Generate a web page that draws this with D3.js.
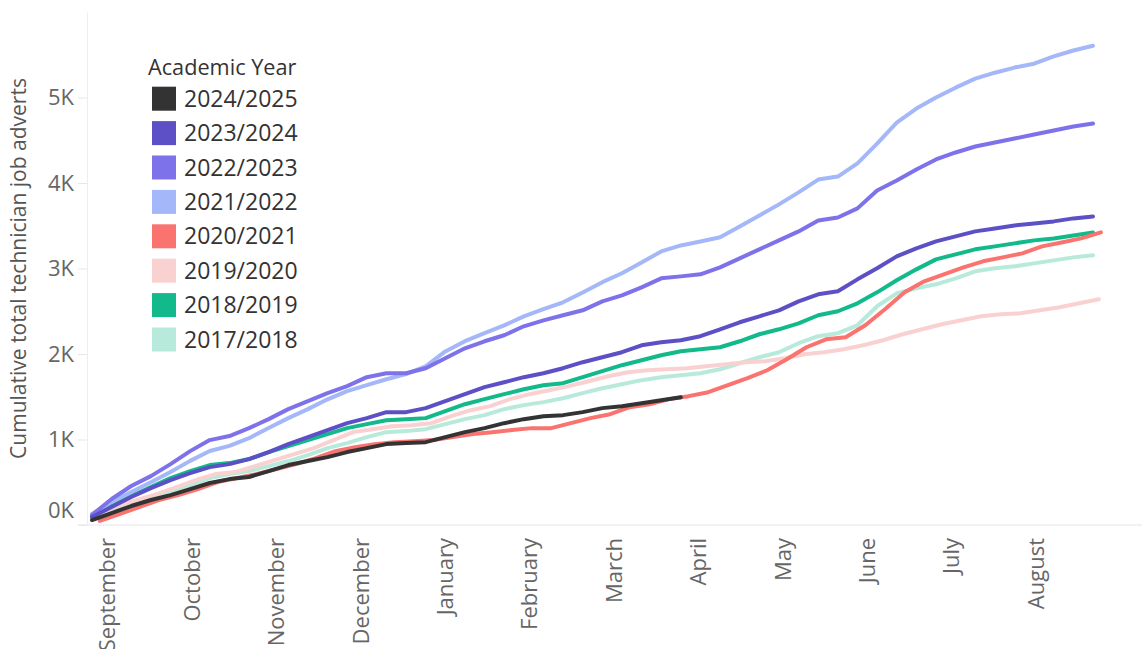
<!DOCTYPE html>
<html>
<head>
<meta charset="utf-8">
<script src="https://cdn.jsdelivr.net/npm/d3@7/dist/d3.min.js"></script>
<style>
  body { margin: 0; background: #fff; }
  .chart text { font-family: 'Open Sans', sans-serif; }
</style>
</head>
<body>
<div class="chart"></div>
<script>
// academic years, newest first (legend order)
var years = ['2024/2025', '2023/2024', '2022/2023', '2021/2022', '2020/2021', '2019/2020', '2018/2019', '2017/2018'];
var colours = ['#333333', '#5d50c6', '#7e72ea', '#a4b7f9', '#fa736f', '#f9d1d1', '#12b98a', '#b7eada'];

// week the series begins on (some years start a few days later)
var startWeek = [0, 0, 0, 0, 0.4, 0.3, 0, 0];

// cumulative adverts, one value per week from the start of September
var adverts2425 = [58, 140, 222, 292, 350, 420, 491, 537, 561, 631, 701, 748, 794, 853, 899, 946, 958, 969, 1028, 1086, 1133, 1191, 1238, 1273, 1285, 1320, 1367, 1390, 1425, 1460, 1495];
var adverts2324 = [93, 210, 327, 432, 526, 607, 677, 712, 771, 853, 946, 1028, 1110, 1191, 1250, 1320, 1320, 1367, 1448, 1530, 1612, 1670, 1729, 1775, 1834, 1904, 1962, 2021, 2102, 2137, 2161, 2208, 2289, 2371, 2441, 2511, 2616, 2698, 2733, 2873, 3002, 3142, 3235, 3317, 3376, 3434, 3469, 3504, 3527, 3551, 3586, 3609];
var adverts2223 = [117, 304, 456, 572, 712, 864, 993, 1040, 1133, 1238, 1355, 1448, 1542, 1624, 1729, 1775, 1775, 1834, 1951, 2067, 2149, 2219, 2324, 2394, 2453, 2511, 2616, 2686, 2780, 2885, 2908, 2932, 3013, 3119, 3224, 3329, 3434, 3562, 3597, 3703, 3913, 4030, 4158, 4275, 4357, 4427, 4473, 4520, 4567, 4614, 4660, 4695];
var adverts2122 = [130, 270, 385, 500, 620, 750, 865, 925, 1015, 1135, 1250, 1355, 1470, 1565, 1635, 1705, 1765, 1855, 2030, 2150, 2245, 2335, 2440, 2525, 2605, 2720, 2840, 2945, 3070, 3200, 3270, 3315, 3365, 3490, 3620, 3750, 3890, 4040, 4075, 4230, 4460, 4705, 4870, 5000, 5115, 5220, 5290, 5350, 5395, 5480, 5550, 5605];
var adverts2021 = [47, 128, 210, 292, 350, 420, 502, 549, 596, 654, 712, 783, 864, 911, 946, 969, 981, 993, 1028, 1063, 1086, 1110, 1133, 1133, 1191, 1250, 1296, 1378, 1413, 1472, 1507, 1553, 1635, 1717, 1810, 1939, 2079, 2172, 2196, 2336, 2523, 2721, 2850, 2932, 3013, 3084, 3130, 3177, 3259, 3305, 3352, 3422];
var adverts1920 = [128, 222, 292, 362, 444, 526, 596, 619, 689, 759, 829, 899, 993, 1086, 1121, 1156, 1168, 1191, 1273, 1343, 1390, 1472, 1530, 1577, 1624, 1682, 1740, 1787, 1810, 1822, 1834, 1857, 1880, 1904, 1915, 1951, 1997, 2021, 2056, 2102, 2161, 2231, 2289, 2348, 2394, 2441, 2464, 2476, 2511, 2546, 2593, 2640];
var adverts1819 = [93, 222, 339, 444, 549, 631, 701, 724, 771, 853, 923, 993, 1063, 1133, 1180, 1226, 1238, 1250, 1332, 1413, 1472, 1530, 1588, 1635, 1659, 1729, 1799, 1869, 1927, 1986, 2032, 2056, 2079, 2149, 2231, 2289, 2359, 2453, 2500, 2593, 2721, 2862, 2990, 3107, 3165, 3224, 3259, 3294, 3329, 3352, 3387, 3422];
var adverts1718 = [82, 175, 257, 327, 397, 467, 549, 596, 631, 689, 748, 818, 899, 958, 1028, 1086, 1098, 1121, 1180, 1238, 1285, 1355, 1402, 1437, 1483, 1542, 1600, 1647, 1694, 1729, 1752, 1775, 1822, 1892, 1962, 2021, 2126, 2208, 2243, 2336, 2558, 2710, 2768, 2815, 2885, 2967, 3002, 3025, 3060, 3095, 3130, 3154];

var allAdverts = [adverts2425, adverts2324, adverts2223, adverts2122, adverts2021, adverts1920, adverts1819, adverts1718];

// month labels and the week they sit on
var months = ['September', 'October', 'November', 'December', 'January', 'February', 'March', 'April', 'May', 'June', 'July', 'August'];
var monthWeeks = [0.8, 5.1, 9.4, 13.7, 18.0, 22.3, 26.6, 30.9, 35.2, 39.5, 43.8, 48.1];

var yTicks = [0, 1000, 2000, 3000, 4000, 5000];

// sizes
const width = 1142;
const height = 649;
const plot = {left: 87, right: 1142, top: 12, bottom: 525};

var svg = d3.select('.chart')
            .append('svg')
            .attr('width', width)
            .attr('height', height)
            .style('background', '#fff');

var x = d3.scaleLinear().domain([0, 51]).range([92, 1093]);
var y = d3.scaleLinear().domain([0, 6000]).range([plot.bottom, plot.top]);
var colour = d3.scaleOrdinal().domain(years).range(colours);

// x baseline
svg.append('line')
    .attr('x1', 78).attr('x2', plot.right)
    .attr('y1', plot.bottom).attr('y2', plot.bottom)
    .attr('stroke', '#eeeeee')
    .attr('stroke-width', 1.5);

// y axis
var yAxis = svg.append('g')
    .attr('transform', `translate(${plot.left},0)`)
    .call(d3.axisLeft(y)
            .tickValues(yTicks)
            .tickSize(9)
            .tickSizeOuter(0)
            .tickPadding(4)
            .tickFormat(d => (d / 1000) + 'K'));

yAxis.select('.domain').attr('stroke', '#eeeeee');
yAxis.selectAll('.tick line').attr('stroke', '#e6e6e6');
yAxis.selectAll('.tick text')
    .style('font-family', "'Open Sans', sans-serif")
    .style('font-size', '22px')
    .attr('fill', '#666');
// bottom label is flushed up inside the axis
yAxis.selectAll('.tick text')
    .filter(d => d === 0)
    .attr('dy', null)
    .attr('y', -8);

// y title
svg.append('text')
    .attr('transform', `translate(26,${(plot.top + plot.bottom) / 2}) rotate(-90)`)
    .attr('text-anchor', 'middle')
    .style('font-size', '21px')
    .attr('fill', '#555')
    .text('Cumulative total technician job adverts');

// month labels
svg.selectAll('.monthLabel')
    .data(months)
    .enter()
    .append('text')
    .attr('class', 'monthLabel')
    .attr('transform', (d, i) => `translate(${x(monthWeeks[i])},538) rotate(-90)`)
    .attr('text-anchor', 'end')
    .attr('dy', '0.35em')
    .style('font-size', '22px')
    .attr('fill', '#666')
    .text(d => d);

// lines, oldest year drawn first
var series = years.map((yr, i) => ({year: yr, start: startWeek[i], values: allAdverts[i]})).reverse();

var line = d3.line()
    .x(d => x(d.week))
    .y(d => y(d.value));

svg.selectAll('.yearLine')
    .data(series)
    .enter()
    .append('path')
    .attr('class', 'yearLine')
    .attr('fill', 'none')
    .attr('stroke', d => colour(d.year))
    .attr('stroke-width', 4)
    .attr('stroke-linejoin', 'round')
    .attr('stroke-linecap', 'round')
    .attr('d', d => line(d.values.map((v, i) => ({week: d.start + i, value: v}))));

// legend
var legend = svg.append('g').attr('class', 'legend');

legend.append('text')
    .attr('x', 148)
    .attr('y', 75)
    .style('font-size', '21.7px')
    .attr('fill', '#333')
    .text('Academic Year');

var rows = legend.selectAll('.row')
    .data(years)
    .enter()
    .append('g')
    .attr('class', 'row')
    .attr('transform', (d, i) => `translate(152,${98.7 + i * 34.4})`);

rows.append('rect')
    .attr('x', 0)
    .attr('y', -12)
    .attr('width', 24)
    .attr('height', 24)
    .attr('fill', d => colour(d));

rows.append('text')
    .attr('x', 32)
    .attr('dy', '0.35em')
    .style('font-size', '23px')
    .attr('fill', '#333')
    .text(d => d);
</script>
</body>
</html>
